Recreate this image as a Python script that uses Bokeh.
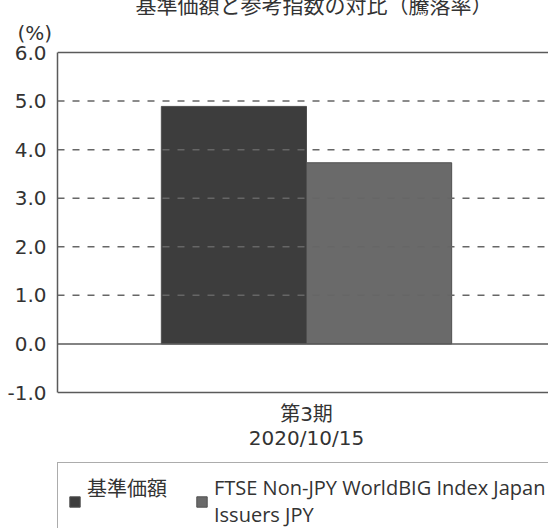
from bokeh.plotting import figure
from bokeh.models import (Range1d, FixedTicker, Legend, LegendItem, Title,
                          Span, CustomJSTickFormatter)
from bokeh.core.properties import value
from bokeh.embed import file_html
from bokeh.resources import INLINE

# ---- data ----
title_text = "基準価額と参考指数の対比（騰落率）"
unit_text = "(%)"
periods = ["第3期"]
dates = ["2020/10/15"]
series_names = ["基準価額\n ", "FTSE Non-JPY WorldBIG Index Japan\nIssuers JPY"]
series_values = [[4.89], [3.73]]
series_colors = ["#3d3d3d", "#6a6a6a"]
y_ticks = [-1.0, 0.0, 1.0, 2.0, 3.0, 4.0, 5.0, 6.0]
grid_values = [1.0, 2.0, 3.0, 4.0, 5.0]
y_min, y_max = -1.0, 6.0

FONT = "Open Sans, Noto Sans CJK JP"
NUMFONT = "DejaVu Sans, Noto Sans CJK JP"
SHIFT = 26          # canvas starts above the page top so the title is cut like the reference
W = 548
H = 528 + SHIFT
TOP = 44 + SHIFT    # frame top (canvas px)
AX_TOP, AX_BOT = 52 + SHIFT, 392 + SHIFT   # canvas px of y_max and y_min
unit = (AX_BOT - AX_TOP) / (y_max - y_min)
yr_top = y_max + (AX_TOP - TOP) / unit
yr_bot = y_min - (H - AX_BOT) / unit

p = figure(width=W, height=H, output_backend="svg", toolbar_location=None,
           x_range=Range1d(0, 491 / 498), y_range=Range1d(yr_bot, yr_top),
           min_border_left=57, min_border_right=0,
           min_border_top=TOP, min_border_bottom=0, title=None)
p.styles = {"margin-top": f"-{SHIFT}px"}
p.background_fill_color = "white"
p.border_fill_color = "white"
p.outline_line_color = None
p.xgrid.visible = False
p.ygrid.visible = False
p.xaxis.visible = False

for g in grid_values:
    p.add_layout(Span(location=g, dimension="width", line_color="#666666",
                      line_width=1.5, line_dash="7 8"))
for s in (0.0, y_min, y_max):
    p.add_layout(Span(location=s, dimension="width", line_color="#5a5a5a", line_width=1.5))

centers = [0.5 + i for i in range(len(periods))]
bw = 0.2915
renderers = []
n = len(series_names)
for k in range(n):
    xs = [c + (k - (n - 1) / 2) * bw for c in centers]
    r = p.vbar(x=xs, top=series_values[k], bottom=0, width=bw,
               fill_color=series_colors[k], line_color="#505050", line_width=1)
    renderers.append(r)

# category labels under the plot area
p.text(x=centers, y=[y_min] * len(centers), text=periods, y_offset=21,
       text_align="center", text_baseline="middle", text_font=value(NUMFONT),
       text_font_size="20px", text_color="#333333")
p.text(x=centers, y=[y_min] * len(centers), text=dates, y_offset=45,
       text_align="center", text_baseline="middle", text_font=value(NUMFONT),
       text_font_size="20px", text_color="#333333")

p.yaxis.ticker = FixedTicker(ticks=y_ticks)
p.yaxis.bounds = (y_min, y_max)
p.yaxis.formatter = CustomJSTickFormatter(code="return tick.toFixed(1);")
p.yaxis.axis_line_color = "#5a5a5a"
p.yaxis.axis_line_width = 1.5
p.yaxis.major_tick_line_color = None
p.yaxis.minor_tick_line_color = None
p.yaxis.major_label_text_font = NUMFONT
p.yaxis.major_label_text_font_size = "20px"
p.yaxis.major_label_text_color = "#333333"
p.yaxis.major_label_standoff = 5

p.add_layout(Title(text=unit_text, align="left", offset=-40, standoff=0,
                   text_font=NUMFONT, text_font_size="20px", text_font_style="normal",
                   text_color="#333333"), "above")
p.add_layout(Title(text=title_text, align="left", offset=78, standoff=0,
                   text_font=FONT, text_font_size="21px", text_font_style="normal",
                   text_color="#333333"), "above")

legend = Legend(items=[LegendItem(label=series_names[k], renderers=[renderers[k]])
                       for k in range(n)],
                orientation="horizontal", location=(0, -12),
                border_line_color="#5a5a5a", border_line_width=1.5,
                background_fill_color="white", background_fill_alpha=1,
                label_text_font=FONT, label_text_font_size="20px",
                label_text_color="#333333",
                glyph_width=13, glyph_height=13, label_standoff=6,
                spacing=28, padding=10, margin=0)
p.add_layout(legend, "center")

open("out.html", "w").write(file_html(p, INLINE))
